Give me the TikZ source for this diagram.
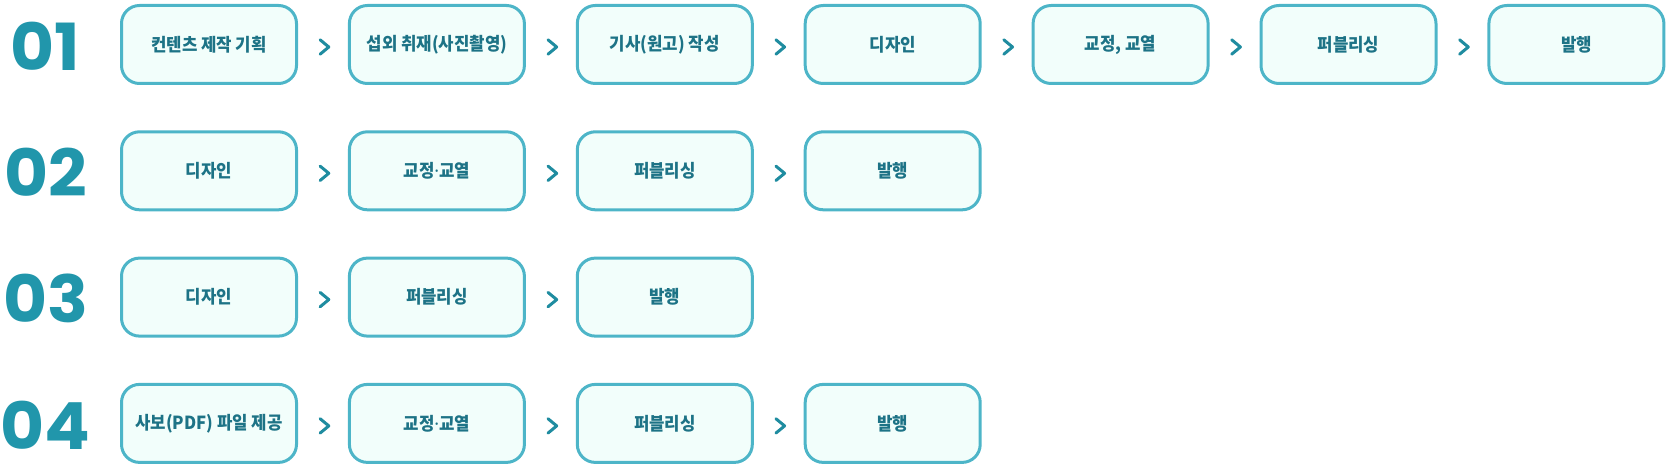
\documentclass[tikz,border=0pt]{standalone}
\usepackage{fontspec}
\setmainfont[FakeStretch=0.93]{Noto Sans CJK KR}
\newfontfamily\numfont[FakeStretch=1.04]{Poppins}
\newfontfamily\dotfont{Noto Sans}
\usepackage{tikz}
\usetikzlibrary{positioning,calc}
\usepackage{xcolor}
\definecolor{numteal}{HTML}{2196AB}
\definecolor{boxline}{HTML}{4DB5C8}
\definecolor{boxfill}{HTML}{F2FEFB}
\definecolor{txtteal}{HTML}{1D7386}
\definecolor{chevteal}{HTML}{1F8CA0}
\tikzset{
    stepbox/.style={rectangle, draw=boxline, fill=boxfill, minimum width=175pt, minimum height=78pt, rounded corners=18pt, line width=3pt, text=txtteal, font=\fontsize{18}{20}\selectfont\bfseries},
    rownum/.style={text=numteal, inner sep=0pt, font=\numfont\fontsize{65}{65}\selectfont\bfseries},
    chev/.style={draw=chevteal, line width=3pt, line cap=round, line join=round}
}

\begin{document}
\begin{tikzpicture}[x=1pt, y=1pt, node distance=227.9pt]
    \useasboundingbox (0,0) rectangle (1668,-468);

    % row 01
    \node [stepbox] at (209,-44.5) (b11) {컨텐츠 제작 기획};
    \node [stepbox, right of=b11] (b12) {섭외 취재(사진촬영)};
    \node [stepbox, right of=b12] (b13) {기사(원고) 작성};
    \node [stepbox, right of=b13] (b14) {디자인};
    \node [stepbox, right of=b14] (b15) {교정, 교열};
    \node [stepbox, right of=b15] (b16) {퍼블리싱};
    \node [stepbox, right of=b16] (b17) {발행};

    % row 02
    \node [stepbox, below of=b11, node distance=126.3pt] (b21) {디자인};
    \node [stepbox, right of=b21] (b22) {교정{\dotfont·}교열};
    \node [stepbox, right of=b22] (b23) {퍼블리싱};
    \node [stepbox, right of=b23] (b24) {발행};

    % row 03
    \node [stepbox, below of=b21, node distance=126.3pt] (b31) {디자인};
    \node [stepbox, right of=b31] (b32) {퍼블리싱};
    \node [stepbox, right of=b32] (b33) {발행};

    % row 04
    \node [stepbox, below of=b31, node distance=126.3pt] (b41) {사보(PDF) 파일 제공};
    \node [stepbox, right of=b41] (b42) {교정{\dotfont·}교열};
    \node [stepbox, right of=b42] (b43) {퍼블리싱};
    \node [stepbox, right of=b43] (b44) {발행};

    % numbers
    \node [rownum, left of=b11, node distance=163.5pt, yshift=-1.5pt] (n1) {01};
    \node [rownum, left of=b21, node distance=163.5pt, yshift=-1.5pt] (n2) {02};
    \node [rownum, left of=b31, node distance=163.5pt, yshift=-1.5pt] (n3) {03};
    \node [rownum, left of=b41, node distance=163.5pt, yshift=-1.5pt] (n4) {04};

    % chevrons between steps
    \draw [chev] ($(b11.east)!0.5!(b12.west)+(-2.85,4.7)$) -- ++(8.7,-7.2) -- ++(-8.7,-7.2);
    \draw [chev] ($(b12.east)!0.5!(b13.west)+(-2.85,4.7)$) -- ++(8.7,-7.2) -- ++(-8.7,-7.2);
    \draw [chev] ($(b13.east)!0.5!(b14.west)+(-2.85,4.7)$) -- ++(8.7,-7.2) -- ++(-8.7,-7.2);
    \draw [chev] ($(b14.east)!0.5!(b15.west)+(-2.85,4.7)$) -- ++(8.7,-7.2) -- ++(-8.7,-7.2);
    \draw [chev] ($(b15.east)!0.5!(b16.west)+(-2.85,4.7)$) -- ++(8.7,-7.2) -- ++(-8.7,-7.2);
    \draw [chev] ($(b16.east)!0.5!(b17.west)+(-2.85,4.7)$) -- ++(8.7,-7.2) -- ++(-8.7,-7.2);
    \draw [chev] ($(b21.east)!0.5!(b22.west)+(-2.85,4.7)$) -- ++(8.7,-7.2) -- ++(-8.7,-7.2);
    \draw [chev] ($(b22.east)!0.5!(b23.west)+(-2.85,4.7)$) -- ++(8.7,-7.2) -- ++(-8.7,-7.2);
    \draw [chev] ($(b23.east)!0.5!(b24.west)+(-2.85,4.7)$) -- ++(8.7,-7.2) -- ++(-8.7,-7.2);
    \draw [chev] ($(b31.east)!0.5!(b32.west)+(-2.85,4.7)$) -- ++(8.7,-7.2) -- ++(-8.7,-7.2);
    \draw [chev] ($(b32.east)!0.5!(b33.west)+(-2.85,4.7)$) -- ++(8.7,-7.2) -- ++(-8.7,-7.2);
    \draw [chev] ($(b41.east)!0.5!(b42.west)+(-2.85,4.7)$) -- ++(8.7,-7.2) -- ++(-8.7,-7.2);
    \draw [chev] ($(b42.east)!0.5!(b43.west)+(-2.85,4.7)$) -- ++(8.7,-7.2) -- ++(-8.7,-7.2);
    \draw [chev] ($(b43.east)!0.5!(b44.west)+(-2.85,4.7)$) -- ++(8.7,-7.2) -- ++(-8.7,-7.2);
\end{tikzpicture}
\end{document}
